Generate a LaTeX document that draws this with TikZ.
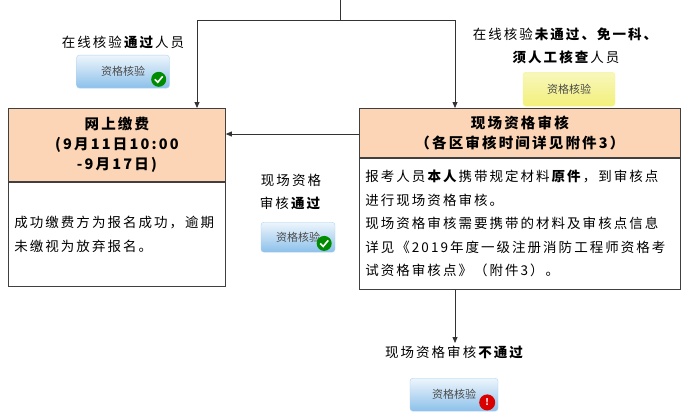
\documentclass[tikz,border=0pt]{standalone}
\usepackage{fontspec}
\setmainfont[LetterSpace=15]{Noto Sans CJK SC}
\newfontfamily\btnfont{Noto Sans CJK SC}
\usetikzlibrary{positioning,arrows.meta}
\definecolor{peach}{HTML}{FBD5B5}
\definecolor{btnblue}{HTML}{8CC0EA}
\definecolor{btnyellow}{HTML}{F2F07A}
\tikzset{
  conn/.style={draw=black!80,thick,-{Triangle[length=6pt,width=5pt]}},
  headbox/.style={draw=black!75,thick,fill=peach,align=center,font=\bfseries\fontsize{14.5}{20}\selectfont},
  bodybox/.style={draw=black!75,thick,align=left,anchor=north west,inner sep=6pt,font=\fontsize{13.5}{23.5}\selectfont},
  lbl/.style={font=\fontsize{13.5}{23}\selectfont,align=center},
  bluebtn/.style={rounded corners=3pt,top color=white!85!btnblue,bottom color=btnblue,draw=btnblue!70!white,minimum width=#1,minimum height=33pt,font=\btnfont\fontsize{11}{12}\selectfont,text=black!70},
  yellowbtn/.style={rounded corners=3pt,top color=white!50!btnyellow,bottom color=btnyellow,draw=btnyellow!80!white,minimum width=92pt,minimum height=34pt,font=\btnfont\fontsize{11}{12}\selectfont,text=black!70}
}
\begin{document}
\begin{tikzpicture}[x=1pt,y=1pt]
  \useasboundingbox (0,0) rectangle (695,-416);
  % boxes
  \node[headbox,minimum width=217pt,minimum height=73pt,anchor=north west] (feehead) at (8,-108)
    {网上缴费\\(9月11日10:00\\-9月17日)};
  \node[bodybox,minimum width=217pt,minimum height=104pt,text width=205pt] (feebody) at (feehead.south west)
    {成功缴费方为报名成功，逾期\\未缴视为放弃报名。};
  \node[headbox,minimum width=321pt,minimum height=49pt,anchor=north west] (chkhead) at (359,-108)
    {现场资格审核\\（各区审核时间详见附件3）};
  \node[bodybox,minimum width=321pt,minimum height=131pt,text width=309pt,inner ysep=2pt] (chkbody) at (chkhead.south west)
    {报考人员\textbf{本人}携带规定材料\textbf{原件}，到审核点\\进行现场资格审核。\\
     现场资格审核需要携带的材料及审核点信息\\详见《2019年度一级注册消防工程师资格考\\试资格审核点》（附件3）。};
  % labels
  \node[lbl] (passlbl) at (123,-42) {在线核验\textbf{通过}人员};
  \node[bluebtn=93pt,below=3pt of passlbl] (passbtn) {资格核验};
  \node[lbl] (faillbl) at (566,-46) {在线核验\textbf{未通过、免一科、}\\\textbf{须人工核查}人员};
  \node[yellowbtn,anchor=north] (failbtn) at (569,-72) {资格核验};
  \node[lbl] (sitelbl) at (291,-192) {现场资格\\审核\textbf{通过}};
  \node[bluebtn=74pt,minimum height=30pt,anchor=north] (sitebtn) at (298,-222) {资格核验};
  \coordinate (down) at (455,-343);
  \node[lbl,below=0pt of down] (nolbl) {现场资格审核\textbf{不通过}};
  \node[bluebtn=88pt,anchor=north] (nobtn) at (454,-378) {资格核验};
  % icons
  \foreach \b in {passbtn,sitebtn}{
    \fill[green!55!black] (\b.south east) ++(-11,9) circle (7.5);
    \draw[white,line width=1.6pt] (\b.south east) ++(-15,9) -- ++(3,-3) -- ++(5,6);
  }
  \fill[red!85!black] (nobtn.south east) ++(-11,9) circle (8);
  \node[white,font=\bfseries\small] at ([xshift=-11pt,yshift=9pt]nobtn.south east) {!};
  % connectors
  \coordinate (top) at (340,0);
  \coordinate (split) at (340,-20);
  \draw[black!80,thick] (top) -- (split);
  \draw[conn] (split) -| (feehead.north -| 197,0);
  \draw[conn] (split) -| (chkhead.north -| 455,0);
  \draw[conn] (chkhead.west |- 0,-134) -- (feehead.east |- 0,-134);
  \draw[conn] (chkbody.south -| down) -- (down);
\end{tikzpicture}
\end{document}
